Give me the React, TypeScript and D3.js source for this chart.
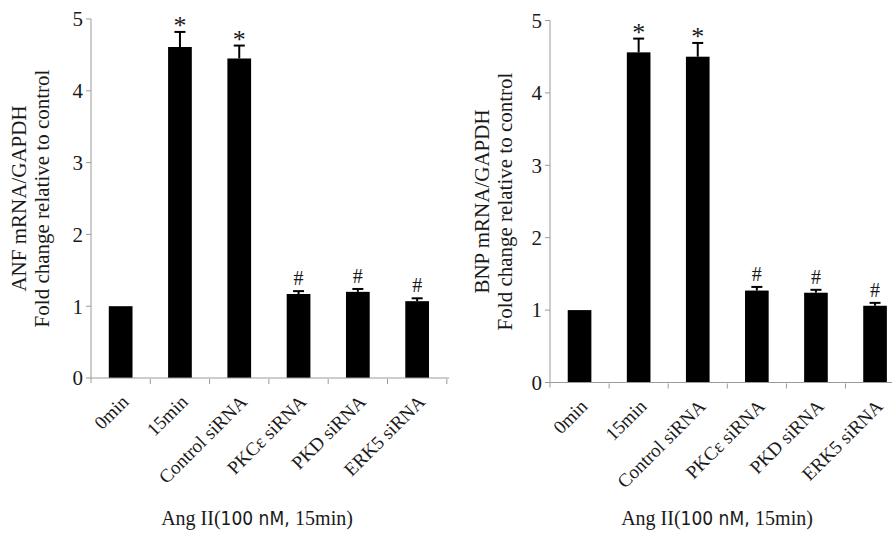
import React from "react";
import * as d3 from "d3";

const categories = ["0min", "15min", "Control siRNA", "PKCε siRNA", "PKD siRNA", "ERK5 siRNA"];
const anfMeans = [1.0, 4.61, 4.45, 1.17, 1.2, 1.07];
const anfErrors = [0, 0.21, 0.18, 0.04, 0.04, 0.04];
const bnpMeans = [1.0, 4.56, 4.5, 1.27, 1.24, 1.06];
const bnpErrors = [0, 0.19, 0.19, 0.05, 0.04, 0.04];
const marks = ["", "*", "*", "#", "#", "#"];
const yTicks = [0, 1, 2, 3, 4, 5];
const anfTitle = ["ANF mRNA/GAPDH", "Fold change relative to control"];
const bnpTitle = ["BNP mRNA/GAPDH", "Fold change relative to control"];

const SERIF = "'Liberation Serif', 'Times New Roman', serif";
const NARROW = "'Liberation Sans Narrow', 'Arial Narrow', 'DejaVu Sans Condensed', sans-serif";
const AXIS = "#9a9a9a";
const TEXT = "#1a1a1a";

type PanelProps = {
  x0: number;
  y0: number;
  y5: number;
  band: number;
  means: number[];
  errors: number[];
  title: string[];
  titleX: [number, number];
  xTitleX: number;
  axisEnd: number;
};

function Panel(p: PanelProps) {
  const x = d3
    .scaleBand<string>()
    .domain(categories)
    .range([p.x0, p.x0 + p.band * categories.length])
    .paddingInner(0.6)
    .paddingOuter(0.3);
  const y = d3.scaleLinear().domain([0, 5]).range([p.y0, p.y5]);
  const bw = x.bandwidth();
  const step = x.step();
  const midY = (p.y0 + p.y5) / 2;
  return (
    <g>
      {categories.map((c, i) => (
        <rect key={"b" + i} x={x(c)!} y={y(p.means[i])} width={bw} height={y(0) - y(p.means[i])} fill="#000" />
      ))}
      {categories.map((c, i) => {
        if (!p.errors[i]) return null;
        const cx = x(c)! + bw / 2;
        const top = y(p.means[i] + p.errors[i]);
        return (
          <g key={"e" + i} stroke="#000" strokeWidth={2}>
            <line x1={cx} x2={cx} y1={y(p.means[i])} y2={top} />
            <line x1={cx - 5.5} x2={cx + 5.5} y1={top} y2={top} />
          </g>
        );
      })}
      {categories.map((c, i) => {
        if (!marks[i]) return null;
        const cx = x(c)! + bw / 2;
        const top = y(p.means[i] + p.errors[i]);
        const isStar = marks[i] === "*";
        return (
          <text
            key={"m" + i}
            x={cx}
            y={isStar ? top + 2 : top - 6}
            textAnchor="middle"
            fontFamily={SERIF}
            fontSize={isStar ? 26 : 20}
            fill={TEXT}
          >
            {marks[i]}
          </text>
        );
      })}
      <line x1={p.x0} x2={p.x0} y1={p.y5} y2={p.y0 + 5} stroke={AXIS} strokeWidth={1} />
      <line x1={p.x0} x2={p.axisEnd} y1={p.y0} y2={p.y0} stroke={AXIS} strokeWidth={1} />
      {yTicks.map((t) => (
        <g key={"yt" + t}>
          <line x1={p.x0 - 5} x2={p.x0} y1={y(t)} y2={y(t)} stroke={AXIS} strokeWidth={1} />
          <text x={p.x0 - 8} y={y(t)} dy="0.35em" textAnchor="end" fontFamily={SERIF} fontSize={21} fill={TEXT}>
            {t}
          </text>
        </g>
      ))}
      {categories.map((c, i) => {
        const bx = p.x0 + step * (i + 1);
        return <line key={"xt" + i} x1={bx} x2={bx} y1={p.y0 + 1} y2={p.y0 + 6} stroke={AXIS} strokeWidth={1} />;
      })}
      {categories.map((c, i) => {
        const cx = x(c)! + bw / 2;
        return (
          <text
            key={"xl" + i}
            transform={`translate(${cx + 9},${p.y0 + 25}) rotate(-45)`}
            textAnchor="end"
            fontFamily={SERIF}
            fontSize={19}
            fill={TEXT}
          >
            {c}
          </text>
        );
      })}
      {p.title.map((t, i) => (
        <text
          key={"yl" + i}
          transform={`translate(${p.titleX[i]},${midY}) rotate(-90)`}
          textAnchor="middle"
          fontFamily={SERIF}
          fontSize={21}
          fill={TEXT}
        >
          {t}
        </text>
      ))}
      <text x={p.xTitleX} y={525} textAnchor="middle" fontSize={20} fill={TEXT} fontFamily={SERIF}>
        <tspan fontFamily={SERIF}>Ang II(</tspan>
        <tspan fontFamily={NARROW} fontSize={19}>100 nM, </tspan>
        <tspan fontFamily={SERIF}>15min)</tspan>
      </text>
    </g>
  );
}

export default function App() {
  return (
    <svg
      width={892}
      height={534}
      viewBox="0 0 892 534"
      style={{ position: "absolute", left: 0, top: 0, background: "#fff" }}
    >
      <rect width={892} height={534} fill="#fff" />
      <Panel
        x0={91}
        y0={378}
        y5={19}
        band={59.3}
        means={anfMeans}
        errors={anfErrors}
        title={anfTitle}
        titleX={[26, 49]}
        xTitleX={257}
        axisEnd={449}
      />
      <Panel
        x0={550}
        y0={382.5}
        y5={20.5}
        band={59.1}
        means={bnpMeans}
        errors={bnpErrors}
        title={bnpTitle}
        titleX={[489, 512]}
        xTitleX={717}
        axisEnd={892}
      />
    </svg>
  );
}
